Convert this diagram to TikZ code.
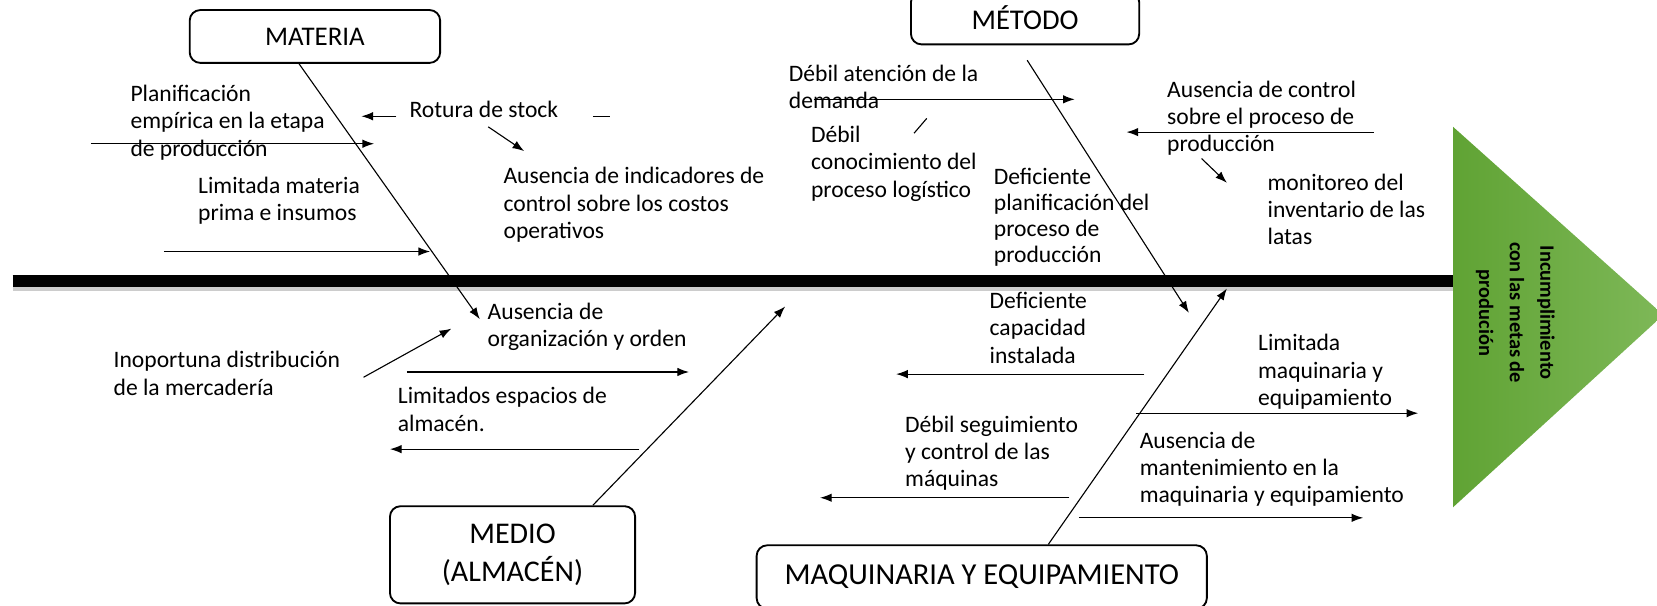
\documentclass[tikz,border=0pt]{standalone}
\usepackage{fontspec}
\setmainfont{Carlito}
\usetikzlibrary{arrows.meta,positioning}
\definecolor{headL}{RGB}{96,163,52}
\definecolor{headR}{RGB}{126,184,88}
\tikzset{box/.style={draw,rounded corners=2mm,line width=1pt,align=center,font=\fontsize{14.5}{20.4}\selectfont},
cause/.style={anchor=north west,align=left,inner sep=0pt,font=\fontsize{12.7}{14.7}\selectfont}}

\begin{document}
\begin{tikzpicture}[x=0.2mm,y=-0.2mm,>={Latex[length=2.2mm,width=1.6mm]},line width=0.6pt]
\useasboundingbox (0,0) rectangle (1568,573);
\clip (0,0) rectangle (1568,573);

% espina y cabeza
\coordinate (spl) at (12,266);
\coordinate (spr) at (1376,266);
\draw[line width=2.4mm,black!20] ([yshift=-0.7mm]spl) -- ([yshift=-0.7mm]spr);
\draw[line width=2.4mm] (spl) -- (spr);
\shade[left color=headL,right color=headR] (1375,120) -- (1574,298) -- (1375,480) -- cycle;
\node[rotate=-90,align=center,font=\bfseries\fontsize{11}{16.5}\selectfont] (efecto) at (1434,296) {Incumplimiento\\con las metas de\\produción};

% categorias
\node[box,minimum width=47.4mm,minimum height=10mm] (materia) at (298,34.5) {MATERIA};
\node[box,minimum width=43.2mm,minimum height=10mm,font=\fontsize{15.4}{20}\selectfont] (metodo) at (970,17) {MÉTODO};
\node[box,minimum width=46.4mm,minimum height=18.4mm,font=\fontsize{16.2}{20.4}\selectfont] (medio) at (485,525) {MEDIO\\(ALMACÉN)};
\node[box,minimum width=85.2mm,minimum height=12mm,font=\fontsize{16.4}{20}\selectfont] (maquinaria) at (929,546) {MAQUINARIA Y EQUIPAMIENTO};

% causas
\node[cause] (planif) at (123,80) {Planificación\\empírica en la etapa\\de producción};
\node[cause] (rotura) at (387,95) {Rotura de stock};
\node[cause] (indic) at (476,158) {Ausencia de indicadores de\\control sobre los costos\\operativos};
\node[cause] (limmat) at (187,167) {Limitada materia\\prima e insumos};
\node[cause] (organiz) at (461,286) {Ausencia de\\organización y orden};
\node[cause] (inoport) at (107,332) {Inoportuna distribución\\de la mercadería};
\node[cause] (espacios) at (376,366) {Limitados espacios de\\almacén.};
\node[cause] (atencion) at (746,61) {Débil atención de la\\demanda};
\node[cause] (conoc) at (767,119) {Débil\\conocimiento del\\proceso logístico};
\node[cause,font=\fontsize{12.7}{13.9}\selectfont] (defplan) at (940,159) {Deficiente\\planificación del\\proceso de\\producción};
\node[cause] (control) at (1104,76) {Ausencia de control\\sobre el proceso de\\producción};
\node[cause] (monit) at (1199,164) {monitoreo del\\inventario de las\\latas};
\node[cause] (capac) at (936,276) {Deficiente\\capacidad\\instalada};
\node[cause] (limmaq) at (1190,316) {Limitada\\maquinaria y\\equipamiento};
\node[cause] (seguim) at (856,393) {Débil seguimiento\\y control de las\\máquinas};
\node[cause] (manten) at (1078,408) {Ausencia de\\mantenimiento en la\\maquinaria y equipamiento};

% huesos principales
\coordinate (materia-e) at (454,302);
\coordinate (metodo-s) at (972,57);
\coordinate (metodo-e) at (1125,296);
\coordinate (medio-e) at (743,290);
\coordinate (maquinaria-e) at (1161,273);
\path[->] ([xshift=-3mm]materia.south) edge (materia-e);
\path[->] (metodo-s) edge (metodo-e);
\path[->] ([xshift=15.2mm]medio.north) edge (medio-e);
\path[->] ([xshift=12.6mm]maquinaria.north) edge (maquinaria-e);

% flechas de causas
\coordinate (a1s) at (86,136);   \coordinate (a1e) at (354,136);
\coordinate (a2s) at (375,110);  \coordinate (a2e) at (342,110);
\coordinate (a3s) at (462,120);  \coordinate (a3e) at (496,143);
\coordinate (a4s) at (155,238);  \coordinate (a4e) at (407,238);
\coordinate (a6s) at (344,357);  \coordinate (a6e) at (427,311);
\coordinate (a7s) at (385,352);  \coordinate (a7e) at (652,352);
\coordinate (a8s) at (605,425);  \coordinate (a8e) at (369,425);
\coordinate (a10s) at (770,94);  \coordinate (a10e) at (1017,94);
\coordinate (a12s) at (1300,125); \coordinate (a12e) at (1066,125);
\coordinate (a13s) at (1137,150); \coordinate (a13e) at (1161,173);
\coordinate (a15s) at (1083,354); \coordinate (a15e) at (848,354);
\coordinate (a16s) at (1075,391); \coordinate (a16e) at (1342,391);
\coordinate (a17s) at (1012,471); \coordinate (a17e) at (776,471);
\coordinate (a18s) at (1021,490); \coordinate (a18e) at (1290,490);
\path[->] (a1s) edge (a1e);
\path[->] (a2s) edge (a2e);
\path[->] (a3s) edge (a3e);
\path[->] (a4s) edge (a4e);
\path[->] (a6s) edge (a6e);
\path[->] (a7s) edge (a7e);
\path[->] (a8s) edge (a8e);
\path[->] (a10s) edge (a10e);
\path[->] (a12s) edge (a12e);
\path[->] (a13s) edge (a13e);
\path[->] (a15s) edge (a15e);
\path[->] (a16s) edge (a16e);
\path[->] (a17s) edge (a17e);
\path[->] (a18s) edge (a18e);

% trazos sueltos
\coordinate (g1s) at (561,110); \coordinate (g1e) at (577,110);
\coordinate (g2s) at (865,126); \coordinate (g2e) at (877,112);
\draw (g1s) -- (g1e);
\draw (g2s) -- (g2e);
\end{tikzpicture}
\end{document}
